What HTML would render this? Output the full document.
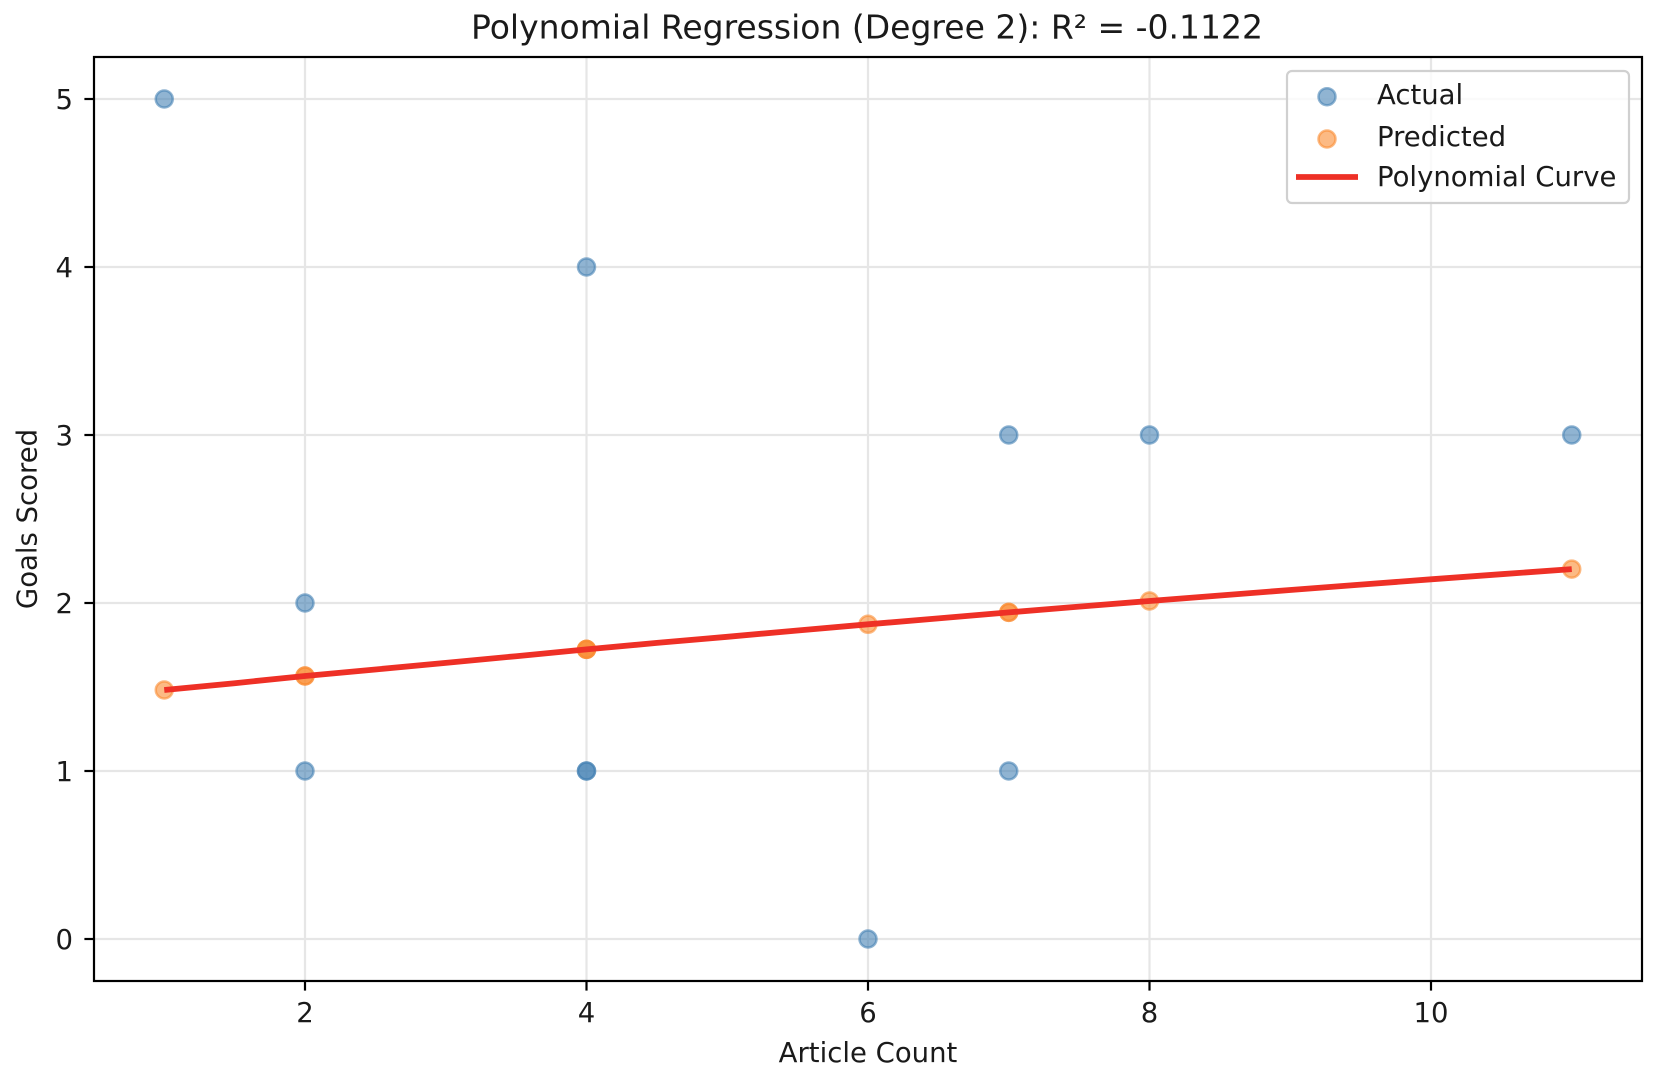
<!DOCTYPE html>
<html>
<head>
<meta charset="utf-8">
<style>
  html, body { margin:0; padding:0; background:#ffffff; }
  svg { display:block; }
  text { font-family: "DejaVu Sans", "Liberation Sans", sans-serif; fill:#1a1a1a; }
</style>
</head>
<body>
<svg width="1656" height="1078" viewBox="0 0 1656 1078" xmlns="http://www.w3.org/2000/svg">
  <rect x="0" y="0" width="1656" height="1078" fill="#ffffff"/>

  <!-- grid -->
  <g stroke="#e6e6e6" stroke-width="2.2">
    <line x1="305" y1="57" x2="305" y2="981"/>
    <line x1="586.5" y1="57" x2="586.5" y2="981"/>
    <line x1="868" y1="57" x2="868" y2="981"/>
    <line x1="1149.5" y1="57" x2="1149.5" y2="981"/>
    <line x1="1431" y1="57" x2="1431" y2="981"/>
    <line x1="94" y1="939" x2="1642" y2="939"/>
    <line x1="94" y1="771" x2="1642" y2="771"/>
    <line x1="94" y1="603" x2="1642" y2="603"/>
    <line x1="94" y1="435" x2="1642" y2="435"/>
    <line x1="94" y1="267" x2="1642" y2="267"/>
    <line x1="94" y1="99" x2="1642" y2="99"/>
  </g>

  <!-- actual points -->
  <g fill="rgb(70,130,180)" fill-opacity="0.6" stroke="rgb(70,130,180)" stroke-opacity="0.6" stroke-width="2.5">
    <circle cx="164.25" cy="99" r="8.5"/>
    <circle cx="305" cy="603" r="8.5"/>
    <circle cx="305" cy="771" r="8.5"/>
    <circle cx="586.5" cy="267" r="8.5"/>
    <circle cx="586.5" cy="771" r="8.5"/>
    <circle cx="586.5" cy="771" r="8.5"/>
    <circle cx="868" cy="939" r="8.5"/>
    <circle cx="1008.75" cy="435" r="8.5"/>
    <circle cx="1008.75" cy="771" r="8.5"/>
    <circle cx="1149.5" cy="435" r="8.5"/>
    <circle cx="1571.75" cy="435" r="8.5"/>
  </g>

  <!-- predicted points -->
  <g fill="rgb(250,140,50)" fill-opacity="0.6" stroke="rgb(250,140,50)" stroke-opacity="0.6" stroke-width="2.5">
    <circle cx="164.25" cy="690" r="8.5"/>
    <circle cx="305" cy="676" r="8.5"/>
    <circle cx="305" cy="676" r="8.5"/>
    <circle cx="586.5" cy="649.4" r="8.5"/>
    <circle cx="586.5" cy="649.4" r="8.5"/>
    <circle cx="586.5" cy="649.4" r="8.5"/>
    <circle cx="868" cy="624.3" r="8.5"/>
    <circle cx="1008.75" cy="612.4" r="8.5"/>
    <circle cx="1008.75" cy="612.4" r="8.5"/>
    <circle cx="1149.5" cy="601" r="8.5"/>
    <circle cx="1571.75" cy="569.1" r="8.5"/>
  </g>

  <!-- polynomial curve -->
  <polyline fill="none" stroke="rgb(238,48,38)" stroke-width="5.8" stroke-linecap="butt" stroke-linejoin="round"
    points="164.25,690.0 234.6,683.2 305,676.0 375.4,669.5 445.7,662.9 516.1,656.2 586.5,649.4 656.9,642.9 727.2,636.8 797.6,630.5 868,624.3 938.4,618.4 1008.75,612.4 1079.1,606.6 1149.5,601.0 1219.9,595.5 1290.2,590.0 1360.6,584.6 1431,579.3 1501.4,574.2 1571.75,569.1"/>

  <!-- spines -->
  <rect x="94" y="57" width="1548" height="924" fill="none" stroke="#000000" stroke-width="2.2"/>

  <!-- ticks -->
  <g stroke="#000000" stroke-width="2.2">
    <line x1="305" y1="981" x2="305" y2="990.6"/>
    <line x1="586.5" y1="981" x2="586.5" y2="990.6"/>
    <line x1="868" y1="981" x2="868" y2="990.6"/>
    <line x1="1149.5" y1="981" x2="1149.5" y2="990.6"/>
    <line x1="1431" y1="981" x2="1431" y2="990.6"/>
    <line x1="84.4" y1="939" x2="94" y2="939"/>
    <line x1="84.4" y1="771" x2="94" y2="771"/>
    <line x1="84.4" y1="603" x2="94" y2="603"/>
    <line x1="84.4" y1="435" x2="94" y2="435"/>
    <line x1="84.4" y1="267" x2="94" y2="267"/>
    <line x1="84.4" y1="99" x2="94" y2="99"/>
  </g>

  <!-- tick labels -->
  <g font-size="27.5" text-anchor="middle">
    <text x="305" y="1022">2</text>
    <text x="586.5" y="1022">4</text>
    <text x="868" y="1022">6</text>
    <text x="1149.5" y="1022">8</text>
    <text x="1431" y="1022">10</text>
  </g>
  <g font-size="27.5" text-anchor="end">
    <text x="73" y="949">0</text>
    <text x="73" y="781">1</text>
    <text x="73" y="613">2</text>
    <text x="73" y="445">3</text>
    <text x="73" y="277">4</text>
    <text x="73" y="109">5</text>
  </g>

  <!-- axis labels -->
  <text x="868" y="1062" font-size="27.5" text-anchor="middle">Article Count</text>
  <text transform="translate(36.5,519) rotate(-90)" font-size="27.5" text-anchor="middle">Goals Scored</text>

  <!-- title -->
  <text x="867" y="38.5" font-size="33" text-anchor="middle">Polynomial Regression (Degree 2): R² = -0.1122</text>

  <!-- legend -->
  <rect x="1287" y="71" width="342" height="132" rx="5" ry="5" fill="#ffffff" fill-opacity="0.8" stroke="#d0d0d0" stroke-width="2.2"/>
  <circle cx="1327" cy="96.7" r="8.5" fill="rgb(70,130,180)" fill-opacity="0.6" stroke="rgb(70,130,180)" stroke-opacity="0.6" stroke-width="2.5"/>
  <circle cx="1327" cy="139" r="8.5" fill="rgb(250,140,50)" fill-opacity="0.6" stroke="rgb(250,140,50)" stroke-opacity="0.6" stroke-width="2.5"/>
  <line x1="1296" y1="177" x2="1358" y2="177" stroke="rgb(238,48,38)" stroke-width="5.8"/>
  <g font-size="27.5">
    <text x="1377" y="104">Actual</text>
    <text x="1377" y="146">Predicted</text>
    <text x="1377" y="186">Polynomial Curve</text>
  </g>
</svg>
</body>
</html>
